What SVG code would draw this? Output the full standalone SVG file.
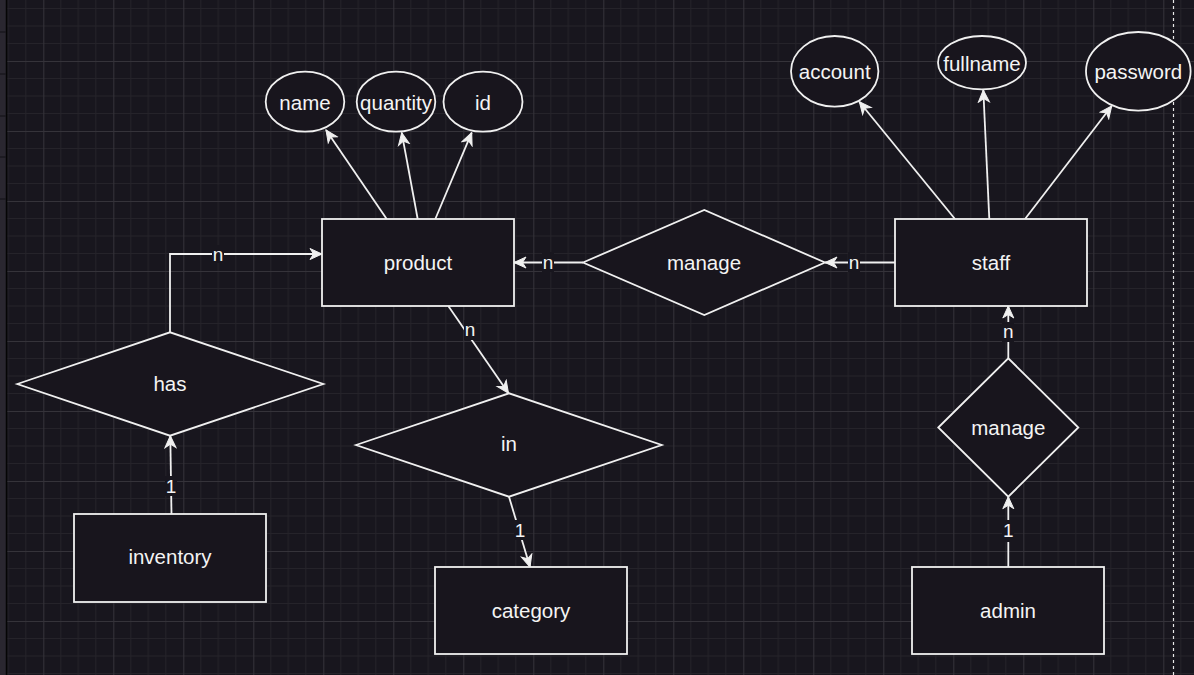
<svg xmlns="http://www.w3.org/2000/svg" width="1194" height="675" viewBox="0 0 1194 675">
<defs>
<pattern id="grid" patternUnits="userSpaceOnUse" x="43.3" y="61" width="70" height="70">
<rect width="70" height="70" fill="#18161e"/>
<path d="M17.5,0V70M35,0V70M52.5,0V70M0,17.5H70M0,35H70M0,52.5H70" stroke="#25232a" stroke-width="1" fill="none"/>
<path d="M0.5,0V70M0,0.5H70" stroke="#35333a" stroke-width="1" fill="none"/>
</pattern>
<marker id="arr" markerUnits="userSpaceOnUse" markerWidth="14" markerHeight="14" viewBox="-13 -7 14 14" refX="0" refY="0" orient="auto">
<path d="M-12,-5.5 L0,0 L-12,5.5 L-8.5,0 Z" fill="#f0f0f0" stroke="#f0f0f0" stroke-width="1"/>
</marker>
<style>
.shape{fill:#18151d;stroke:#f0f0f0;stroke-width:1.8}
.lbl{font-family:"Liberation Sans",Arial,Helvetica,sans-serif;font-size:20.5px;fill:#f4f4f4;text-anchor:middle}
.edge{fill:none;stroke:#f0f0f0;stroke-width:1.8;marker-end:url(#arr)}
.elbl{font-family:"Liberation Sans",Arial,Helvetica,sans-serif;font-size:19px;fill:#f4f4f4;text-anchor:middle}
.ebg{fill:#18161e}
</style>
</defs>
<rect width="1194" height="675" fill="url(#grid)"/>
<rect x="0" y="0" width="6" height="675" fill="#2a2730"/>
<line x1="6.5" y1="0" x2="6.5" y2="675" stroke="#050505" stroke-width="1.5"/>
<path d="M0,32H6M0,74H6M0,116H6M0,157H6M0,199H6" stroke="#1a181e" stroke-width="1.5"/>
<line x1="1173.5" y1="0" x2="1173.5" y2="675" stroke="#e8e8e8" stroke-width="1.2" stroke-dasharray="3,3"/>

<g id="connectors">
<line class="edge" x1="386.7" y1="219" x2="326" y2="130"/>
<line class="edge" x1="417.7" y1="219" x2="401.7" y2="132.7"/>
<line class="edge" x1="435.3" y1="219" x2="471.7" y2="132.7"/>
<line class="edge" x1="955" y1="219" x2="859.3" y2="101.7"/>
<line class="edge" x1="989.3" y1="219" x2="983.3" y2="90"/>
<line class="edge" x1="1025" y1="219" x2="1111.7" y2="106"/>
<line class="edge" x1="583" y1="262.5" x2="514" y2="262.5"/>
<line class="edge" x1="895" y1="262.5" x2="825" y2="262.5"/>
<polyline class="edge" points="170,332.3 170,254 322,254"/>
<line class="edge" x1="171.5" y1="514" x2="170.3" y2="435.7"/>
<line class="edge" x1="448.3" y1="306" x2="508.5" y2="393.3"/>
<line class="edge" x1="509" y1="496.7" x2="530" y2="567"/>
<line class="edge" x1="1008.3" y1="358.3" x2="1008.3" y2="306"/>
<line class="edge" x1="1008.3" y1="567" x2="1008.3" y2="496.7"/>
<g id="edge-labels">
<rect class="ebg" x="542" y="252" width="12" height="20"/><text class="elbl" x="548" y="269">n</text>
<rect class="ebg" x="848" y="252" width="12" height="20"/><text class="elbl" x="854" y="269">n</text>
<rect class="ebg" x="212" y="245" width="12" height="18"/><text class="elbl" x="218" y="261">n</text>
<rect class="ebg" x="165" y="476" width="12" height="20"/><text class="elbl" x="171" y="493">1</text>
<rect class="ebg" x="464" y="320" width="12" height="20"/><text class="elbl" x="470" y="336">n</text>
<rect class="ebg" x="514" y="520" width="12" height="20"/><text class="elbl" x="520" y="537">1</text>
<rect class="ebg" x="1002" y="322" width="12" height="20"/><text class="elbl" x="1008.3" y="338">n</text>
<rect class="ebg" x="1002" y="520" width="12" height="22"/><text class="elbl" x="1008.3" y="537">1</text>
</g>
</g>

<g id="product"><rect class="shape" x="322" y="219" width="192" height="87"/><text class="lbl" x="418" y="270">product</text></g>
<g id="name"><ellipse class="shape" cx="305" cy="101.7" rx="39.3" ry="30"/><text class="lbl" x="305" y="109.5">name</text></g>
<g id="quantity"><ellipse class="shape" cx="396" cy="101.7" rx="39.3" ry="30"/><text class="lbl" x="396" y="109.5">quantity</text></g>
<g id="id"><ellipse class="shape" cx="483" cy="101.7" rx="39.5" ry="30"/><text class="lbl" x="483" y="109.5">id</text></g>
<g id="manage1"><polygon class="shape" points="583,262.5 704.3,210 825,262.5 704.3,315"/><text class="lbl" x="704" y="270">manage</text></g>
<g id="staff"><rect class="shape" x="895" y="219" width="192" height="87"/><text class="lbl" x="991" y="270">staff</text></g>
<g id="account"><ellipse class="shape" cx="834.7" cy="71.3" rx="43.7" ry="35.3"/><text class="lbl" x="834.7" y="79.3">account</text></g>
<g id="fullname"><ellipse class="shape" cx="982" cy="62.7" rx="44" ry="26.7"/><text class="lbl" x="982" y="70.5">fullname</text></g>
<g id="password"><ellipse class="shape" cx="1138.3" cy="71.3" rx="52.3" ry="39.3"/><text class="lbl" x="1138.3" y="79.3">password</text></g>
<g id="has"><polygon class="shape" points="17.3,384 170,332.3 323.3,384 170,435.7"/><text class="lbl" x="170" y="391">has</text></g>
<g id="inventory"><rect class="shape" x="74" y="514" width="192" height="88"/><text class="lbl" x="170" y="564">inventory</text></g>
<g id="in"><polygon class="shape" points="356,445 509,393.3 661.7,445 509,496.7"/><text class="lbl" x="509" y="451">in</text></g>
<g id="category"><rect class="shape" x="435" y="567" width="192" height="87"/><text class="lbl" x="531" y="618">category</text></g>
<g id="manage2"><polygon class="shape" points="938.3,427.5 1008.3,358.3 1078.3,427.5 1008.3,496.7"/><text class="lbl" x="1008.3" y="434.5">manage</text></g>
<g id="admin"><rect class="shape" x="912" y="567" width="192" height="87"/><text class="lbl" x="1008" y="618">admin</text></g>
</svg>
